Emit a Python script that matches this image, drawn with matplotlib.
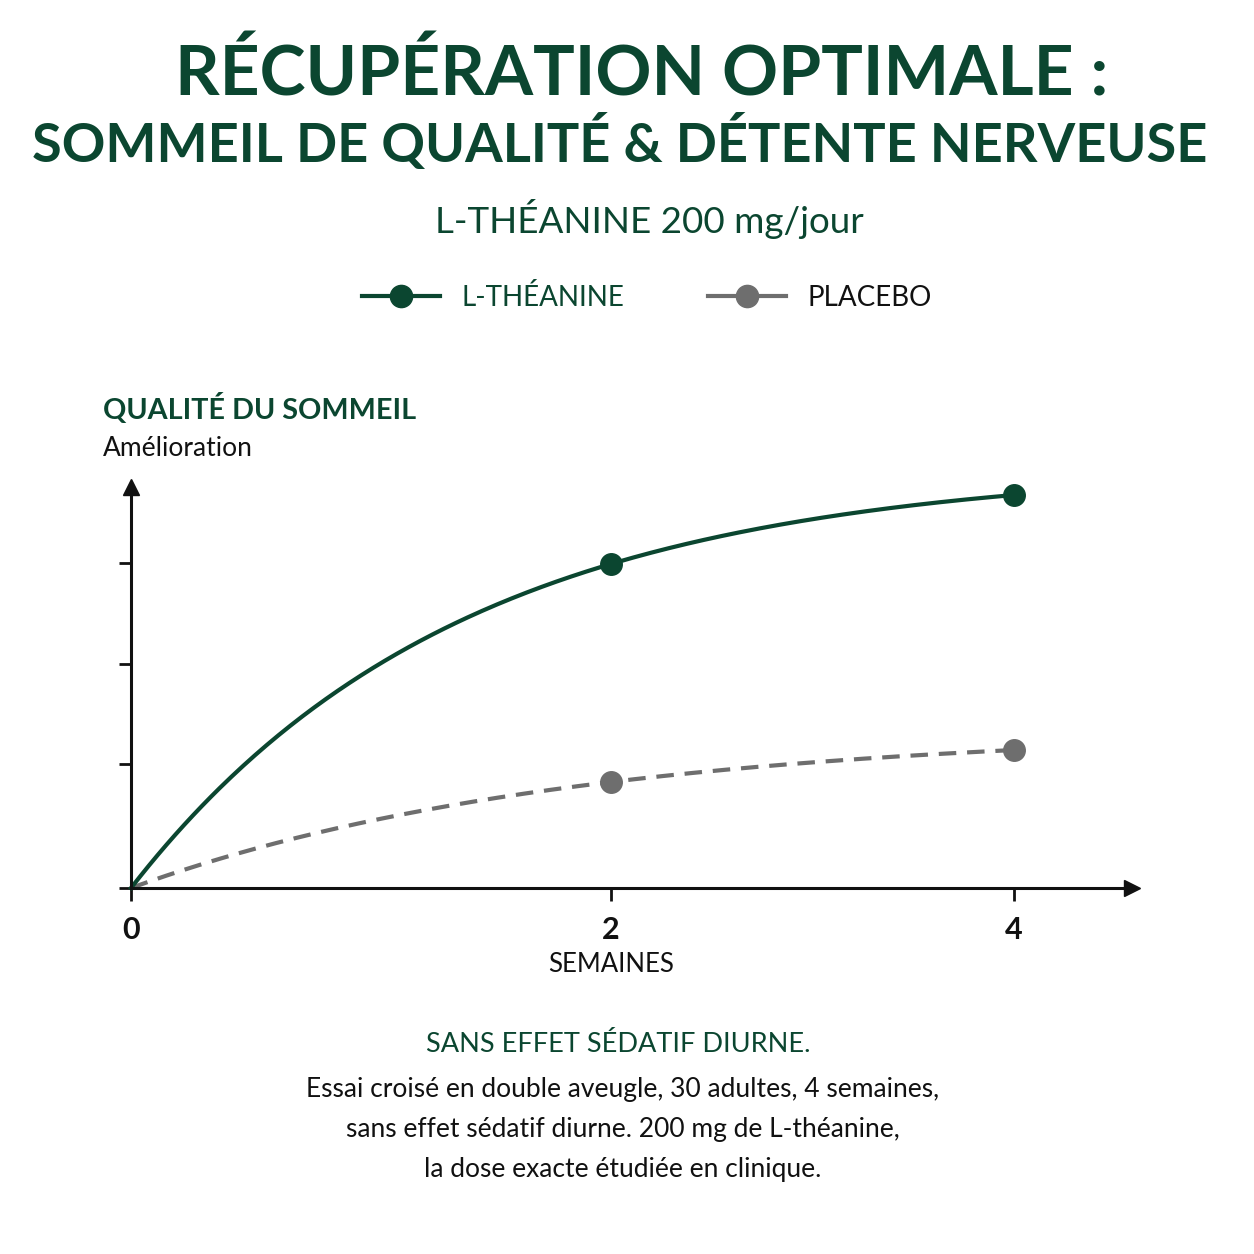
import numpy as np
import matplotlib
matplotlib.use('Agg')
import matplotlib.pyplot as plt
import matplotlib.transforms as mtransforms
from matplotlib.lines import Line2D

GREEN = '#0b4630'
GREY = '#6e6e6e'
INK = '#111111'

# data (improvement in arbitrary units)
weeks = [0, 2, 4]
theanine = [0.0, 3.24, 3.93]
placebo = [0.0, 1.06, 1.38]
y_ticks = [0, 1.24, 2.24, 3.25]
x_ticks = [0, 2, 4]
x_labels = ['0', '2', '4']

title_1 = 'RÉCUPÉRATION OPTIMALE :'
title_2 = 'SOMMEIL DE QUALITÉ & DÉTENTE NERVEUSE'
subtitle = 'L-THÉANINE 200 mg/jour'
series_names = ['L-THÉANINE', 'PLACEBO']
note_head = 'SANS EFFET SÉDATIF DIURNE.'
note_lines = ['Essai croisé en double aveugle, 30 adultes, 4 semaines,',
              'sans effet sédatif diurne. 200 mg de L-théanine,',
              'la dose exacte étudiée en clinique.']

plt.rcParams['font.family'] = ['Lato', 'DejaVu Sans']

P = 0.88


def fwd(x):
    x = np.asarray(x, float)
    return np.sign(x) * np.abs(x) ** P


def inv(t):
    t = np.asarray(t, float)
    return np.sign(t) * np.abs(t) ** (1 / P)


def saturating(xs, ys, n=300):
    # smooth saturating line a*(1-exp(-k*t)) through the three points
    t = fwd(xs)
    y = np.asarray(ys, float)
    r = y[2] / y[1]
    lo, hi = 1e-5, 20.0
    for _ in range(200):
        k = (lo + hi) / 2
        val = (1 - np.exp(-k * t[2])) / (1 - np.exp(-k * t[1]))
        if val > r:
            lo = k
        else:
            hi = k
    a = y[1] / (1 - np.exp(-k * t[1]))
    tt = np.linspace(0, t[2], n)
    return inv(tt), a * (1 - np.exp(-k * tt))


W = 1254
fig = plt.figure(figsize=(12.54, 12.54), dpi=100)


def px(x, y):
    return x / W, 1 - y / W


x0, y0, x1, y1 = 131, 888, 1132, 487
ax = fig.add_axes([x0 / W, 1 - y0 / W, (x1 - x0) / W, (y0 - y1) / W])
ax.set_xscale('function', functions=(fwd, inv))
t_tip = fwd(4) * (x1 - x0) / (1014 - x0)
ax.set_xlim(0, float(inv(t_tip)))
ax.set_ylim(0, (y0 - y1) / 100)

for s in ['top', 'right']:
    ax.spines[s].set_visible(False)
for s in ['left', 'bottom']:
    ax.spines[s].set_linewidth(2.2)
    ax.spines[s].set_color(INK)
ax.plot(1, 0, '>', color=INK, ms=11, transform=ax.transAxes, clip_on=False)
ax.plot(0, 1, '^', color=INK, ms=11, transform=ax.transAxes, clip_on=False)

ax.set_yticks(y_ticks)
ax.set_yticklabels([])
ax.set_xticks(x_ticks)
ax.set_xticklabels(x_labels)
ax.xaxis.set_minor_locator(matplotlib.ticker.NullLocator())
ax.tick_params(axis='y', length=9, width=2, color=INK)
ax.tick_params(axis='x', length=9, width=2, color=INK, labelsize=22, pad=11, labelcolor=INK)
for lab in ax.get_xticklabels():
    lab.set_fontweight('bold')

xs, ys = saturating(weeks, placebo)
ax.plot(xs, ys, color=GREY, lw=3.0, dashes=(4.2, 2.6), solid_capstyle='round', clip_on=False)
ax.plot(weeks[1:], placebo[1:], 'o', color=GREY, ms=15.5, clip_on=False)

xs, ys = saturating(weeks, theanine)
ax.plot(xs, ys, color=GREEN, lw=3.0, clip_on=False)
ax.plot(weeks[1:], theanine[1:], 'o', color=GREEN, ms=15.5, clip_on=False)

# axis title sits under the '2' tick
blend = mtransforms.blended_transform_factory(ax.transData, fig.transFigure)
ax.text(2, 1 - 964 / W, 'SEMAINES', transform=blend, ha='center', va='center',
        fontsize=18.5, color=INK)

# headings
fig.text(*px(642, 95), title_1, ha='center', va='baseline', fontsize=50,
         fontweight='bold', color=GREEN)
fig.text(*px(620, 162), title_2, ha='center', va='baseline', fontsize=39,
         fontweight='bold', color=GREEN)
fig.text(*px(649, 233), subtitle, ha='center', va='baseline', fontsize=26.5, color=GREEN)

handles = [Line2D([], [], color=GREEN, lw=3, marker='o', ms=16),
           Line2D([], [], color=GREY, lw=3, marker='o', ms=16)]
leg = fig.legend(handles, series_names, loc='center', bbox_to_anchor=px(647, 297),
                 ncol=2, frameon=False, fontsize=20, handlelength=2.8,
                 handletextpad=0.8, columnspacing=3.0)
leg.get_texts()[0].set_color(GREEN)
leg.get_texts()[1].set_color(INK)

fig.text(*px(103, 409), 'QUALITÉ DU SOMMEIL', ha='left', va='center', fontsize=20.7,
         fontweight='bold', color=GREEN)
fig.text(*px(103, 449), 'Amélioration', ha='left', va='center', fontsize=19, color=INK)

fig.text(*px(618, 1045), note_head, ha='center', va='center', fontsize=19.5, color=GREEN)
for i, line in enumerate(note_lines):
    fig.text(*px(623, 1090 + 40 * i), line, ha='center', va='center', fontsize=19, color=INK)

fig.savefig('out.png', dpi=100, facecolor='white')
